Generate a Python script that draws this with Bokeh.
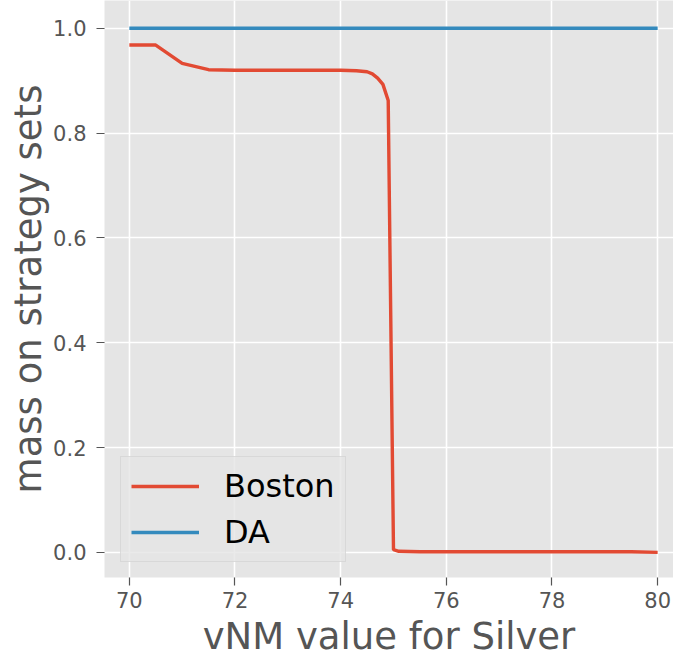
from bokeh.plotting import figure
from bokeh.models import Range1d, FixedTicker, Legend, LegendItem, NumeralTickFormatter
from bokeh.embed import file_html
from bokeh.resources import INLINE

# Data
boston_x = [70.0, 70.5, 71.0, 71.5, 72.0, 73.0, 74.0, 74.3, 74.5, 74.6, 74.7, 74.8, 74.9,
            75.0, 75.1, 75.5, 76.0, 78.0, 79.5, 80.0]
boston_y = [0.968, 0.968, 0.933, 0.921, 0.920, 0.920, 0.920, 0.919, 0.917, 0.913, 0.905,
            0.893, 0.862, 0.005, 0.002, 0.001, 0.001, 0.001, 0.001, 0.0]
da_x = [70.0, 80.0]
da_y = [1.0, 1.0]

x_ticks = [70, 72, 74, 76, 78, 80]
y_ticks = [0.0, 0.2, 0.4, 0.6, 0.8, 1.0]

FONT = "DejaVu Sans"
GRAY = "#555555"

p = figure(width=673, height=660, output_backend="svg", toolbar_location=None,
           x_range=Range1d(69.53, 80.3), y_range=Range1d(-0.048, 1.053),
           min_border_left=104, min_border_right=0, min_border_top=0, min_border_bottom=83)

p.background_fill_color = "#E5E5E5"
p.border_fill_color = "white"
p.outline_line_color = None

for g in (p.xgrid, p.ygrid):
    g.grid_line_color = "white"
    g.grid_line_width = 1.6

r_b = p.line(boston_x, boston_y, line_color="#E24A33", line_width=3.4)
r_d = p.line(da_x, da_y, line_color="#348ABD", line_width=3.4)

p.xaxis.ticker = FixedTicker(ticks=x_ticks)
p.yaxis.ticker = FixedTicker(ticks=y_ticks)
p.yaxis.formatter = NumeralTickFormatter(format="0.0")

for ax in (p.xaxis[0], p.yaxis[0]):
    ax.axis_line_color = None
    ax.major_tick_line_color = GRAY
    ax.major_tick_line_width = 1.2
    ax.major_tick_out = 8
    ax.major_tick_in = 0
    ax.minor_tick_line_color = None
    ax.major_label_text_color = GRAY
    ax.major_label_text_font = FONT
    ax.major_label_text_font_size = "21px"
    ax.axis_label_text_color = GRAY
    ax.axis_label_text_font = FONT
    ax.axis_label_text_font_size = "37px"
    ax.axis_label_text_font_style = "normal"

p.xaxis.axis_label = "vNM value for Silver"
p.yaxis.axis_label = "mass on strategy sets"
p.xaxis.major_label_standoff = 6
p.xaxis.axis_label_standoff = 4
p.yaxis.major_label_standoff = 10
p.yaxis.axis_label_standoff = 0

legend = Legend(items=[LegendItem(label="Boston", renderers=[r_b]),
                       LegendItem(label="DA", renderers=[r_d])],
                location=(16, 15))
legend.label_text_font = FONT
legend.label_text_font_size = "32px"
legend.label_text_color = "black"
legend.glyph_width = 68
legend.glyph_height = 38
legend.label_height = 38
legend.label_standoff = 25
legend.spacing = 8
legend.padding = 10
legend.margin = 0
legend.background_fill_color = "#E5E5E5"
legend.background_fill_alpha = 0.8
legend.border_line_color = "#CCCCCC"
legend.border_line_width = 1
p.add_layout(legend, "center")

open("out.html", "w").write(file_html(p, INLINE))
